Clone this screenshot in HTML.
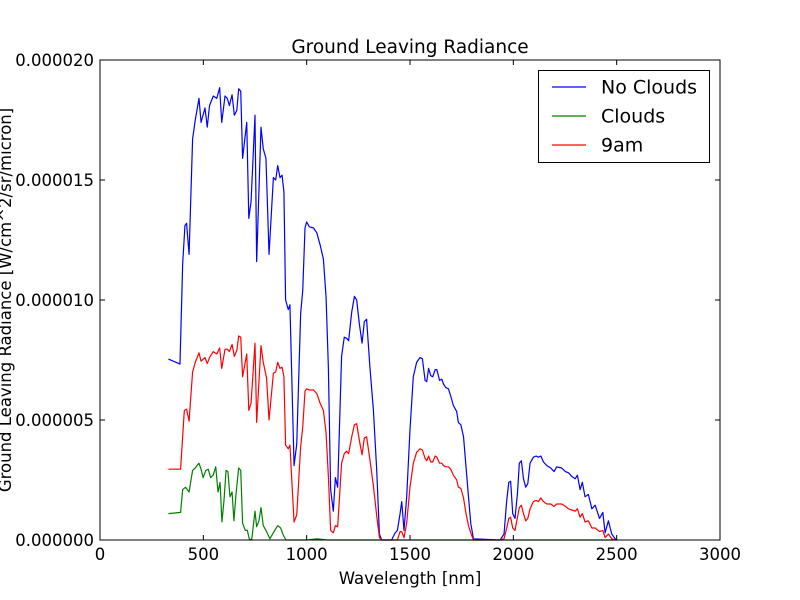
<!DOCTYPE html>
<html><head><meta charset="utf-8"><style>body{margin:0;background:#fff}svg{display:block}text{font-family:"DejaVu Sans","Liberation Sans",sans-serif}</style></head>
<body>
<svg id="chart" width="800" height="600" xmlns="http://www.w3.org/2000/svg">
<rect width="800" height="600" fill="#fff"/>
<text x="410" y="53" font-size="18.5" text-anchor="middle">Ground Leaving Radiance</text>
<text x="410" y="584" font-size="16.5" text-anchor="middle">Wavelength [nm]</text>
<text transform="translate(11,300) rotate(-90)" font-size="16.5" text-anchor="middle">Ground Leaving Radiance [W/cm^2/sr/micron]</text>
<g id="plot"></g>
<g id="axes"></g>
<g>
<rect x="538.5" y="70.5" width="171" height="92" fill="#fff" stroke="#000" stroke-width="1"/>
<g><line x1="552" y1="87" x2="586" y2="87" stroke="#0000ff" stroke-width="1.2"/><text x="601" y="93.5" font-size="19">No Clouds</text></g>
<g><line x1="552" y1="116" x2="586" y2="116" stroke="#008000" stroke-width="1.2"/><text x="601" y="122.5" font-size="19">Clouds</text></g>
<g><line x1="552" y1="145" x2="586" y2="145" stroke="#ff0000" stroke-width="1.2"/><text x="601" y="151.5" font-size="19">9am</text></g>
</g>
</svg>
<script>
const xTicks=[0,500,1000,1500,2000,2500,3000];
const yTicks=[0,5,10,15,20];
const yTickLabels=["0.000000","0.000005","0.000010","0.000015","0.000020"];
const blueW=[331,387,400,411,419,431,448,461,479,489,508,519,530,548,565,579,589,605,616,626,639,650,662,671,681,690,710,720,731,750,758,779,790,803,818,839,850,860,871,881,890,898,911,919,939,952,971,981,992,1000,1013,1033,1049,1065,1081,1094,1105,1116,1129,1139,1150,1169,1182,1194,1203,1218,1231,1242,1255,1268,1279,1290,1306,1323,1339,1352,1363,1411,1427,1439,1452,1460,1471,1484,1500,1516,1532,1548,1560,1573,1581,1590,1600,1610,1622,1630,1643,1654,1662,1673,1686,1697,1710,1726,1734,1746,1759,1771,1783,1794,1807,1936,1955,1968,1978,1987,1997,2008,2020,2029,2039,2049,2060,2070,2081,2097,2110,2121,2133,2146,2162,2181,2197,2210,2234,2252,2267,2283,2299,2310,2323,2334,2347,2363,2380,2396,2417,2433,2444,2460,2476,2493,2504];
const blueV=[7.54,7.33,11.5,13.1,13.2,11.9,16.7,17.5,18.4,17.4,18.0,17.2,18.1,18.5,18.4,18.85,17.4,18.5,18.4,18.1,18.55,17.7,17.9,18.8,18.7,15.9,17.4,13.4,14.1,17.7,11.6,17.2,16.3,15.9,11.9,15.1,15.0,15.6,15.1,15.2,14.5,10.0,9.6,9.8,3.1,4.0,9.45,10.4,13.0,13.25,13.05,13.0,12.8,12.3,11.7,10.1,7.2,2.1,1.2,2.6,2.2,7.65,8.45,8.4,8.3,9.5,10.15,10.0,9.0,8.2,9.1,9.2,7.2,5.4,2.9,0.25,0,0,0.28,0.4,1.1,1.6,0.4,1.8,4.6,6.8,7.4,7.6,7.55,6.65,6.6,7.15,6.85,6.8,7.1,7.1,6.65,6.7,6.5,6.35,6.3,6.0,5.6,5.35,4.9,4.8,4.3,3.05,1.8,0.7,0.05,0,0.25,1.65,2.4,2.45,1.1,0.9,1.95,3.2,3.3,2.55,2.2,2.35,3.2,3.45,3.5,3.45,3.5,3.25,3.1,3.0,2.85,3.05,3.0,2.85,2.8,2.65,2.55,2.7,2.1,2.4,1.8,1.9,1.3,1.45,0.9,1.15,0.3,0.8,0.25,0.05,0];
const redW=[331,390,408,419,431,448,461,479,489,508,519,530,548,565,579,589,605,616,626,639,650,662,671,681,690,710,720,731,750,758,779,790,806,818,839,850,860,871,881,890,898,911,919,939,952,971,981,992,1000,1013,1033,1049,1065,1081,1094,1105,1116,1129,1139,1150,1169,1182,1194,1203,1218,1231,1242,1255,1268,1279,1290,1306,1323,1339,1352,1363,1439,1452,1460,1471,1484,1500,1516,1532,1548,1560,1573,1581,1590,1600,1610,1622,1630,1643,1654,1662,1673,1686,1697,1710,1726,1734,1746,1759,1771,1783,1794,1807,1936,1955,1968,1978,1987,1997,2008,2020,2029,2039,2049,2060,2070,2081,2097,2110,2121,2133,2146,2162,2181,2197,2210,2234,2252,2267,2283,2299,2310,2323,2334,2347,2363,2380,2396,2417,2433,2444,2460,2476,2493,2504];
const redV=[2.95,2.95,5.4,5.45,4.95,7.0,7.4,7.8,7.45,7.6,7.35,7.6,7.85,7.75,8.0,7.15,7.95,7.95,7.85,8.15,7.65,7.9,8.5,8.45,6.8,7.75,5.4,5.7,8.2,4.9,8.1,7.4,6.75,5.0,6.95,7.0,7.4,7.15,7.2,6.8,3.95,3.8,3.95,0.75,1.05,3.9,4.7,6.2,6.3,6.25,6.25,6.1,5.7,5.4,4.45,2.65,0.4,0.3,0.6,0.55,3.2,3.6,3.7,3.6,4.3,4.8,4.85,4.15,3.55,4.25,4.3,3.35,2.25,1.0,0.1,0,0,0.35,0.35,0.1,0.7,2.2,3.2,3.65,3.8,3.75,3.4,3.3,3.5,3.25,3.25,3.5,3.45,3.2,3.2,3.1,3.05,3.05,2.95,2.7,2.5,2.2,2.15,1.75,1.1,0.6,0.3,0,0,0.05,0.5,0.9,0.95,0.5,0.4,0.95,1.35,1.45,1.1,0.8,0.9,1.3,1.6,1.65,1.6,1.75,1.6,1.5,1.5,1.4,1.5,1.5,1.4,1.3,1.25,1.2,1.3,0.95,1.1,0.75,0.8,0.5,0.5,0.35,0.4,0.1,0.25,0.05,0];
const greenW=[331,390,400,414,431,448,461,469,479,489,499,512,524,535,548,560,571,581,590,600,610,619,629,639,648,658,671,681,690,703,713,722,734,750,758,769,779,790,806,822,842,860,874,887,900,1000,1050,1100,1500,2000,2504];
const greenV=[1.1,1.15,2.1,2.2,2.0,2.9,3.0,3.1,3.2,2.95,2.6,2.9,2.95,2.6,2.7,3.05,2.0,2.4,0.75,1.65,2.9,2.85,1.8,2.0,0.8,1.9,3.0,2.9,0.7,0.4,0.4,0.05,0,1.2,0.55,0.8,1.35,0.6,0.35,0.05,0.35,0.6,0.5,0.2,0,0,0.05,0,0,0,0];
const L=100,R=720,T=60,B=540;
const xs=w=>L+w*(R-L)/3000;
const ys=v=>B-v*(B-T)/20;
const NS="http://www.w3.org/2000/svg";
const plot=document.getElementById('plot'),axes=document.getElementById('axes');
function mk(t,a,p){const e=document.createElementNS(NS,t);for(const k in a)e.setAttribute(k,a[k]);p.appendChild(e);return e;}
function series(W,V,c,n){const d=W.map((w,i)=>(i?'L':'M')+xs(w).toFixed(2)+' '+ys(V[i]).toFixed(2)).join(' ');
const p=mk('path',{d:d,fill:'none',stroke:c,'stroke-width':1.2,'stroke-linejoin':'round'},plot);

}
series(blueW,blueV,'#0000ff','series-no-clouds');
series(greenW,greenV,'#008000','series-clouds');
series(redW,redV,'#ff0000','series-9am');
const fr=mk('rect',{x:L,y:T,width:R-L,height:B-T,fill:'none',stroke:'#000','stroke-width':1},axes);


xTicks.forEach(t=>{const x=xs(t);
mk('line',{x1:x,y1:B,x2:x,y2:B-5,stroke:'#000'},axes);
mk('line',{x1:x,y1:T,x2:x,y2:T+5,stroke:'#000'},axes);
const tx=mk('text',{x:x,y:B+20,'font-size':16.5,'text-anchor':'middle'},axes);tx.textContent=t;

});
yTicks.forEach((t,i)=>{const y=ys(t);
mk('line',{x1:L,y1:y,x2:L+5,y2:y,stroke:'#000'},axes);
mk('line',{x1:R,y1:y,x2:R-5,y2:y,stroke:'#000'},axes);
const tx=mk('text',{x:L-6,y:y+6,'font-size':16.5,'text-anchor':'end'},axes);tx.textContent=yTickLabels[i];

});
</script>
</body></html>
